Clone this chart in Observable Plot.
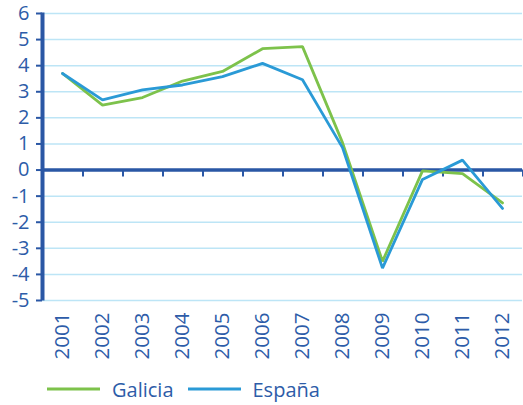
<!DOCTYPE html>
<html>
<head>
<meta charset="utf-8">
<script src="https://cdn.jsdelivr.net/npm/d3@7"></script>
<script src="https://cdn.jsdelivr.net/npm/@observablehq/plot@0.6"></script>
<style>
  html, body { margin: 0; padding: 0; background: #fff; }
  body { width: 523px; height: 405px; overflow: hidden; font-family: "Open Sans", sans-serif; }
  #legend { display: flex; align-items: center; height: 28px; margin-left: 47px; color: #2d5ca8; font-size: 20px; }
  #legend .item { display: flex; align-items: center; margin-right: 14px; }
  #legend svg { margin-right: 12px; }
</style>
</head>
<body>
<div id="chart"></div>
<div id="legend"></div>
<script>
const years = ["2001","2002","2003","2004","2005","2006","2007","2008","2009","2010","2011","2012"];
const galicia = [3.70, 2.49, 2.78, 3.41, 3.78, 4.65, 4.73, 1.05, -3.50, -0.03, -0.14, -1.26];
const espana  = [3.70, 2.69, 3.07, 3.26, 3.58, 4.09, 3.46, 0.86, -3.76, -0.36, 0.38, -1.47];
const yTicks = [-5,-4,-3,-2,-1,0,1,2,3,4,5,6];
const seriesNames = ["Galicia", "España"];
const seriesColors = ["#7dc24b", "#2a9ad6"];

const rows = [];
years.forEach((y, i) => {
  rows.push({year: y, value: galicia[i], series: seriesNames[0]});
  rows.push({year: y, value: espana[i], series: seriesNames[1]});
});

const axisColor = "#2a57a5";
const textColor = "#2d5ca8";

const chart = Plot.plot({
  width: 523,
  height: 375,
  marginTop: 13,
  marginBottom: 75,
  marginLeft: 42,
  marginRight: 1,
  style: {fontFamily: "Open Sans, sans-serif", fontSize: "20px", color: textColor, background: "white"},
  x: {type: "point", domain: years, padding: 0.5},
  y: {domain: [-5, 6]},
  color: {domain: seriesNames, range: seriesColors},
  marks: [
    Plot.gridY(yTicks, {stroke: "#bde5f6", strokeOpacity: 1, strokeWidth: 1.5}),
    Plot.ruleY([0], {stroke: axisColor, strokeWidth: 3.5}),
    Plot.ruleX(years, {x: d => d, dx: 20.5, y1: 0, y2: -0.27, stroke: axisColor, strokeWidth: 2}),
    Plot.ruleX([years[0]], {dx: -20, y1: -5.02, y2: 6.02, stroke: axisColor, strokeWidth: 4}),
    Plot.axisY(yTicks, {tickSize: 6, tickPadding: 7, stroke: axisColor, strokeWidth: 2, fill: textColor, fontSize: 20, label: null, tickFormat: d => String(d)}),
    Plot.axisX({tickSize: 0, tickPadding: 12, tickRotate: -90, fill: textColor, fontSize: 20.5, label: null}),
    Plot.line(rows, {x: "year", y: "value", z: "series", stroke: "series", strokeWidth: 2.8, strokeLinejoin: "miter"})
  ]
});
document.getElementById("chart").appendChild(chart);

const legend = document.getElementById("legend");
seriesNames.forEach((name, i) => {
  const item = document.createElement("div");
  item.className = "item";
  item.innerHTML = `<svg width="53" height="6"><line x1="0" x2="53" y1="3" y2="3" stroke="${seriesColors[i]}" stroke-width="3"/></svg><span>${name}</span>`;
  legend.appendChild(item);
});
</script>
</body>
</html>
